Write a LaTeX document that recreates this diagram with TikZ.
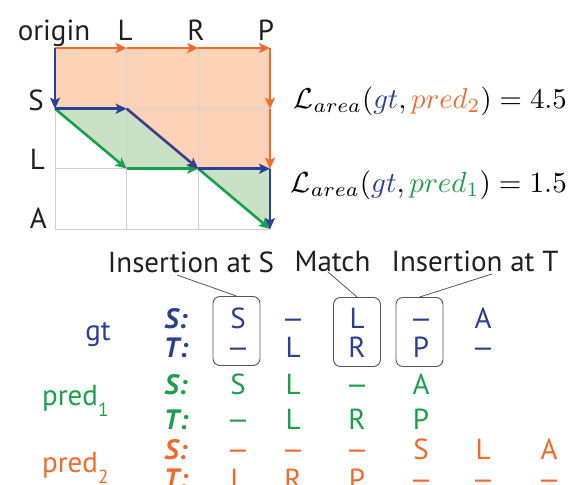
\documentclass[tikz,border=0pt]{standalone}
\usepackage[no-math]{fontspec}
\setmainfont{PT Sans}
\usetikzlibrary{arrows.meta}
\definecolor{cblue}{HTML}{2B3F97}
\definecolor{corange}{HTML}{F26A2B}
\definecolor{cgreen}{HTML}{19A049}
\definecolor{ofill}{HTML}{FCD3B6}
\definecolor{gfill}{HTML}{C9E1C5}
\definecolor{gridc}{HTML}{D2D2D2}
\definecolor{cdiag}{HTML}{3D3D8E}
\definecolor{ctext}{HTML}{231F20}
\definecolor{cbox}{HTML}{555555}
\newcommand{\mydash}{\scalebox{1.3}[1]{\textendash}}
\begin{document}
\begin{tikzpicture}[x=1pt,y=-1pt,
  txt/.style={font=\fontsize{29}{32}\selectfont, text=ctext, inner sep=0pt, anchor=base},
  cell/.style={font=\fontsize{29}{32}\selectfont, inner sep=0pt, anchor=base},
  rowlab/.style={font=\fontsize{28}{30}\selectfont\bfseries\itshape, inner sep=0pt, anchor=base},
  arr/.style={line width=2.6pt, -{Stealth[length=11pt,width=10pt,inset=2.5pt]}},
  framebox/.style={draw=cbox, line width=0.9pt, rounded corners=7pt, minimum width=47pt, minimum height=69pt, inner sep=0pt},
  callout/.style={draw=cbox, line width=0.8pt}]
\useasboundingbox (0,0) rectangle (574,485);
% grid coordinates
\foreach \c/\x in {0/55,1/126.7,2/198.3,3/270}{
  \foreach \r/\y in {0/48,1/108.7,2/168.7,3/229}{
    \coordinate (p\c\r) at (\x,\y);
  }
}
% fills
\fill[ofill] (p00) -- (p30) -- (p32) -- (p22) -- (p11) -- (p01) -- cycle;
\fill[gfill] (p01) -- (p11) -- (p22) -- (p12) -- cycle;
\fill[gfill] (p22) -- (p32) -- (p33) -- cycle;
% grid
\foreach \c in {0,1,2,3}{ \draw[gridc, line width=1pt] (p\c0) -- (p\c3); }
\foreach \r in {0,1,2,3}{ \draw[gridc, line width=1pt] (p0\r) -- (p3\r); }
% pred2 path (orange)
\draw[arr, corange] (p00) -- (p10);
\draw[arr, corange] (p10) -- (p20);
\draw[arr, corange] (p20) -- (p30);
\draw[arr, corange] (p30) -- (p31);
\draw[arr, corange] (p31) -- (p32);
% pred1 path (green)
\draw[arr, cgreen] (p01) -- (p12);
\draw[arr, cgreen] (p12) -- (p22);
\draw[arr, cgreen] (p22) -- (p33);
% gt path (blue)
\draw[arr, cblue] (p00) -- (p01);
\draw[arr, cblue] (p01) -- (p11);
\draw[arr, cdiag] (p11) -- (p22);
\draw[arr, cblue] (p22) -- (p32);
\draw[arr, cblue] (p32) -- (p33);
% axis labels
\node[txt] (origin) at (54,40) {origin};
\node[txt] (colL) at (125,40) {L};
\node[txt] (colR) at (196,40) {R};
\node[txt] (colP) at (266,40) {P};
\node[txt, anchor=base east] (rowS) at (44,110) {S};
\node[txt, anchor=base east] (rowL) at (45,169) {L};
\node[txt, anchor=base east] (rowA) at (47,228) {A};
% equations
\node[inner sep=0pt, anchor=base east] (eq2) at (567,108)
  {\resizebox{273pt}{!}{$\mathcal{L}_{area}(\textcolor{cblue}{gt},\textcolor{corange}{pred_2})=4.5$}};
\node[inner sep=0pt, anchor=base east] (eq1) at (567,192)
  {\resizebox{276pt}{!}{$\mathcal{L}_{area}(\textcolor{cblue}{gt},\textcolor{cgreen}{pred_1})=1.5$}};
% callout labels
\node[txt] (insS) at (191,272) {Insertion at S};
\node[txt] (match) at (332.5,271) {Match};
\node[txt] (insT) at (475,271) {Insertion at T};
\coordinate (insSpt) at (177,275);
\coordinate (matchpt) at (328,272);
\coordinate (insTpt) at (492,274);
% boxes
\node[framebox] (box1) at (236.5,331) {};
\node[framebox] (box2) at (357,332) {};
\node[framebox] (box3) at (419.5,332) {};
\draw[callout] (insSpt) -- (box1.north);
\draw[callout] (matchpt) -- (box2.north);
\draw[callout] (insTpt) -- (box3.north);
% row names
\node[txt, text=cblue] (gt) at (98,340) {gt};
\node[txt, text=cgreen, anchor=base west] (pred1) at (42,405) {pred\raisebox{-11pt}{\fontsize{19}{19}\selectfont 1}};
\node[txt, text=corange, anchor=base west] (pred2) at (42,472) {pred\raisebox{-11pt}{\fontsize{19}{19}\selectfont 2}};
% S:/T: labels
\node[rowlab, text=cblue] (gS) at (176,328) {S:};
\node[rowlab, text=cblue] (gT) at (176,357) {T:};
\node[rowlab, text=cgreen] (p1S) at (176,394) {S:};
\node[rowlab, text=cgreen] (p1T) at (176,429) {T:};
\node[rowlab, text=corange] (p2S) at (176,459) {S:};
\node[rowlab, text=corange] (p2T) at (176,488) {T:};
% alignment cells
\foreach \x/\t [count=\i] in {238/S,293/\mydash,357/L,421/\mydash,483/A}
  \node[cell, text=cblue] (gs\i) at (\x,328) {\t};
\foreach \x/\t [count=\i] in {238/\mydash,293/L,357/R,421/P,483/\mydash}
  \node[cell, text=cblue] (gt\i) at (\x,357) {\t};
\foreach \x/\t [count=\i] in {238/S,293/L,357/\mydash,421/A}
  \node[cell, text=cgreen] (ps\i) at (\x,394) {\t};
\foreach \x/\t [count=\i] in {238/\mydash,293/L,357/R,421/P}
  \node[cell, text=cgreen] (pt\i) at (\x,429) {\t};
\foreach \x/\t [count=\i] in {238/\mydash,293/\mydash,357/\mydash,421/S,483/L,549/A}
  \node[cell, text=corange] (qs\i) at (\x,459) {\t};
\foreach \x/\t [count=\i] in {238/L,293/R,357/P,421/\mydash,483/\mydash,549/\mydash}
  \node[cell, text=corange] (qt\i) at (\x,489) {\t};
\end{tikzpicture}
\end{document}
